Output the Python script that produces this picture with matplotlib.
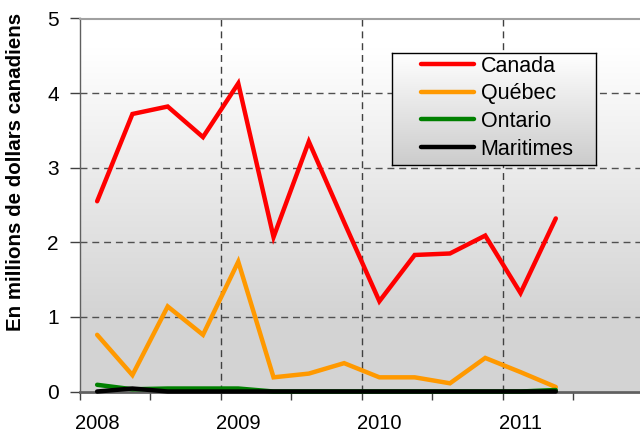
import numpy as np
import matplotlib
matplotlib.use("Agg")
import matplotlib.pyplot as plt
from matplotlib.lines import Line2D

plt.rcParams['font.family'] = ['Liberation Sans', 'DejaVu Sans']

year_labels = ["2008", "2009", "2010", "2011"]
n_categories = 16
canada = [2.55, 3.72, 3.82, 3.41, 4.13, 2.07, 3.35, 2.27, 1.21, 1.83, 1.85, 2.09, 1.32, 2.32]
quebec = [0.76, 0.22, 1.14, 0.76, 1.74, 0.19, 0.24, 0.38, 0.19, 0.19, 0.11, 0.45, 0.26, 0.06]
ontario = [0.09, 0.03, 0.04, 0.04, 0.04, 0.0, 0.0, 0.0, 0.0, 0.0, 0.0, 0.0, 0.0, 0.02]
maritimes = [0.0, 0.04, 0.0, 0.0, 0.0, 0.0, 0.0, 0.0, 0.0, 0.0, 0.0, 0.0, 0.0, 0.0]
series_names = ["Canada", "Québec", "Ontario", "Maritimes"]
colors = ["#ff0000", "#ff9900", "#008000", "#000000"]

W, H = 640, 432
fig = plt.figure(figsize=(6.4, 4.32), dpi=100)

def px_axes(x0, y0, x1, y1, **kw):
    return fig.add_axes([x0 / W, 1 - y1 / H, (x1 - x0) / W, (y1 - y0) / H], **kw)

ax = px_axes(79.5, 18.5, 644, 391.5)

# gradient background
t = np.linspace(0, 1, 256)  # 0 top -> 1 bottom
v = np.clip((t - 0.08) / 0.72, 0, 1)
top_c, bot_c = 1.0, 0.83
grad = (top_c + (bot_c - top_c) * v)[:, None]
ax.imshow(np.dstack([grad, grad, grad]), extent=[-0.5, n_categories - 0.5, 0, 5],
          aspect='auto', origin='upper', zorder=0, interpolation='bilinear')

x = np.arange(len(canada))
for vals, c in zip([canada, quebec, ontario, maritimes], colors):
    ax.plot(x[:len(vals)], vals, color=c, lw=3.2, solid_capstyle='round',
            solid_joinstyle='miter', zorder=3, clip_on=False)

ax.set_xlim(-0.5, n_categories - 0.5)
ax.set_ylim(0, 5)

for yv in [1, 2, 3, 4]:
    ax.axhline(yv, color='#505050', lw=1.0, ls=(0, (5, 3.5)), zorder=1)
for xv in [3.5, 7.5, 11.5]:
    ax.axvline(xv, color='#404040', lw=1.0, ls=(0, (5, 3.5)), zorder=1)

ax.set_xticks([0, 4, 8, 12])
ax.set_xticklabels(year_labels)
ax.set_xticks(np.arange(-0.5, n_categories, 2), minor=True)
ax.tick_params(axis='x', which='major', length=0, pad=16, labelsize=14.5)
ax.tick_params(axis='x', which='minor', length=6, width=1.0, color='#404040')
ax.set_yticks([0, 1, 2, 3, 4, 5])
ax.tick_params(axis='y', length=7, width=1.0, color='#404040', pad=8, labelsize=15)

ax.spines['right'].set_visible(False)
ax.spines['top'].set_color('#a0a0a0')
ax.spines['top'].set_linewidth(1.5)
ax.spines['left'].set_color('#606060')
ax.spines['left'].set_linewidth(1.0)
ax.spines['bottom'].set_color('#606060')
ax.spines['bottom'].set_linewidth(2.0)

ax.set_ylabel("En millions de dollars canadiens", fontsize=14.8, fontweight='bold')
ax.yaxis.set_label_coords(-0.096, (391.5 - 172) / 373)

# legend box with gradient
lax = px_axes(392, 53, 596, 165)
lt = np.linspace(0, 1, 256)
lg = (1.0 + (0.80 - 1.0) * lt)[:, None]
lax.imshow(np.dstack([lg, lg, lg]), extent=[0, 1, 0, 1], aspect='auto', origin='upper',
           interpolation='bilinear')
lax.set_xticks([]); lax.set_yticks([])
for s in lax.spines.values():
    s.set_color('black'); s.set_linewidth(1.0)
lax.set_zorder(2)

handles = [Line2D([], [], color=c, lw=3.2, solid_capstyle='round') for c in colors]
leg = fig.legend(handles, series_names, loc='upper left',
                 bbox_to_anchor=(421 / W, 1 - 55.5 / H), frameon=False,
                 fontsize=15.5, handlelength=2.47, handletextpad=0.3,
                 labelspacing=0.31, borderpad=0, borderaxespad=0)
leg.set_zorder(5)

fig.savefig("out.png", dpi=100)
